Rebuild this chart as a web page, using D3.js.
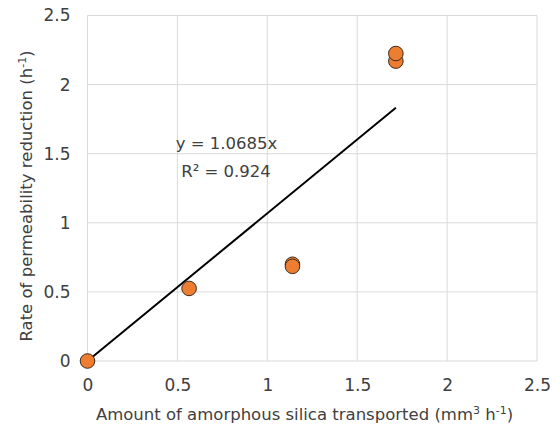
<!DOCTYPE html>
<html><head><meta charset="utf-8">
<script src="https://cdn.jsdelivr.net/npm/d3@7"></script>
<style>body{margin:0;background:#fff;}svg{display:block;}</style>
</head><body>
<svg id="c" width="560" height="429"></svg>
<script>
const xValues = [0, 0.565, 1.14, 1.14, 1.715, 1.715];
const yValues = [0, 0.525, 0.70, 0.685, 2.17, 2.225];
const xTicks = [0, 0.5, 1, 1.5, 2, 2.5];
const yTicks = [0, 0.5, 1, 1.5, 2, 2.5];
const slope = 1.0685;
const eqLabels = ["y = 1.0685x", "R² = 0.924"];

const svg = d3.select("#c");
const m = {l: 87.5, r: 537, t: 15.5, b: 361};
const x = d3.scaleLinear().domain([0, 2.5]).range([m.l, m.r]);
const y = d3.scaleLinear().domain([0, 2.5]).range([m.b, m.t]);
const font = "Verdana, 'DejaVu Sans', sans-serif";
const txt = "#404040";

// grid
svg.append("g").selectAll("line.v").data(xTicks).join("line")
  .attr("x1", d => x(d)).attr("x2", d => x(d)).attr("y1", m.t).attr("y2", m.b)
  .attr("stroke", "#d9d9d9").attr("stroke-width", 1);
svg.append("g").selectAll("line.h").data(yTicks).join("line")
  .attr("y1", d => y(d)).attr("y2", d => y(d)).attr("x1", m.l).attr("x2", m.r)
  .attr("stroke", "#d9d9d9").attr("stroke-width", 1);

// tick labels via axes
const xa = svg.append("g").attr("transform", `translate(0,${m.b})`)
  .call(d3.axisBottom(x).tickValues(xTicks).tickFormat(d3.format("")).tickSize(0));
xa.selectAll("text").attr("y", 30).attr("dy", 0);
const ya = svg.append("g").attr("transform", `translate(${m.l},0)`)
  .call(d3.axisLeft(y).tickValues(yTicks).tickFormat(d3.format("")).tickSize(0).tickPadding(17));
[xa, ya].forEach(a => {
  a.select(".domain").remove();
  a.selectAll("text").attr("font-family", font).attr("font-size", 17).attr("fill", txt);
});

// trendline
const xmax = d3.max(xValues);
svg.append("line")
  .attr("x1", x(0)).attr("y1", y(0)).attr("x2", x(xmax)).attr("y2", y(slope * xmax))
  .attr("stroke", "#000").attr("stroke-width", 2);

// points
svg.append("g").selectAll("circle").data(xValues.map((v, i) => [v, yValues[i]])).join("circle")
  .attr("cx", d => x(d[0])).attr("cy", d => y(d[1])).attr("r", 7.3)
  .attr("fill", "#ED7D31").attr("stroke", "#3d2a1a").attr("stroke-width", 1);

// equation
svg.append("text").attr("x", 226.5).attr("y", 149).attr("text-anchor", "middle")
  .attr("font-family", font).attr("font-size", 16.5).attr("fill", txt).text(eqLabels[0]);
svg.append("text").attr("x", 226).attr("y", 176.5).attr("text-anchor", "middle")
  .attr("font-family", font).attr("font-size", 16.5).attr("fill", txt).text(eqLabels[1]);

// axis titles
const xt = svg.append("text").attr("x", 304.5).attr("y", 420).attr("text-anchor", "middle")
  .attr("font-family", font).attr("font-size", 16.5).attr("fill", txt);
xt.append("tspan").text("Amount of amorphous silica transported (mm");
xt.append("tspan").attr("font-size", 11).attr("dy", -6).text("3");
xt.append("tspan").attr("dy", 6).text(" h");
xt.append("tspan").attr("font-size", 11).attr("dy", -6).text("-1");
xt.append("tspan").attr("dy", 6).text(")");

const yt = svg.append("text").attr("transform", "translate(32,196) rotate(-90)").attr("text-anchor", "middle")
  .attr("font-family", font).attr("font-size", 16.5).attr("fill", txt);
yt.append("tspan").text("Rate of permeability reduction (h");
yt.append("tspan").attr("font-size", 11).attr("dy", -6).text("-1");
yt.append("tspan").attr("dy", 6).text(")");
</script>
</body></html>
